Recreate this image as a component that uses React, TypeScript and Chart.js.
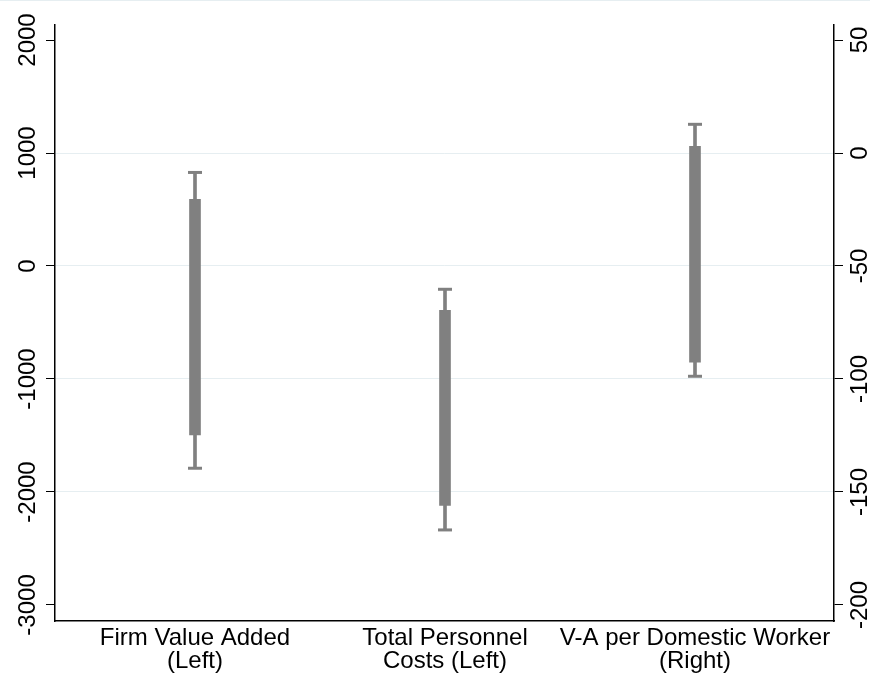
import React, { useEffect, useRef } from "react";
import { Chart, registerables } from "chart.js";

Chart.register(...registerables);

const categories: string[][] = [
  ["Firm Value Added", "(Left)"],
  ["Total Personnel", "Costs (Left)"],
  ["V-A per Domestic Worker", "(Right)"],
];
const catX = [1, 2, 3];
const axisSide = ["y", "y", "y1"];
const outerLow = [-1790, -2336, -98.8];
const outerHigh = [828, -206, 12.7];
const innerLow = [-1494, -2118, -92.6];
const innerHigh = [590, -392, 3.0];
const leftTicks = [-3000, -2000, -1000, 0, 1000, 2000];
const rightTicks = [-200, -150, -100, -50, 0, 50];

const GRAY = "#808080";
const GRID = "#e6eef1";
const FONT = "24px 'Liberation Sans', Arial, Helvetica, sans-serif";

export default function App() {
  const ref = useRef<HTMLCanvasElement | null>(null);

  useEffect(() => {
    if (!ref.current) return;
    const datasets: any[] = [];
    for (const side of ["y", "y1"]) {
      const idx = catX.map((_, i) => i).filter((i) => axisSide[i] === side);
      datasets.push({
        type: "bar",
        yAxisID: side,
        data: idx.map((i) => ({ x: catX[i], y: [outerLow[i], outerHigh[i]] })),
        backgroundColor: GRAY,
        barThickness: 3,
        grouped: false,
        borderWidth: 0,
      });
      datasets.push({
        type: "bar",
        yAxisID: side,
        data: idx.map((i) => ({ x: catX[i], y: [innerLow[i], innerHigh[i]] })),
        backgroundColor: GRAY,
        barThickness: 11,
        grouped: false,
        borderWidth: 0,
      });
      datasets.push({
        type: "scatter",
        yAxisID: side,
        data: idx.flatMap((i) => [
          { x: catX[i], y: outerLow[i] },
          { x: catX[i], y: outerHigh[i] },
        ]),
        pointStyle: "line",
        radius: 7,
        borderWidth: 3,
        borderColor: GRAY,
        backgroundColor: GRAY,
      });
    }

    const labelPlugin = {
      id: "labels",
      beforeDraw(chart: any) {
        const ctx = chart.ctx;
        ctx.save();
        ctx.fillStyle = "#ffffff";
        ctx.fillRect(0, 0, chart.width, chart.height);
        ctx.fillStyle = GRID;
        ctx.fillRect(0, 0, chart.width, 1);
        ctx.restore();
      },
      afterDraw(chart: any) {
        const ctx = chart.ctx;
        const ca = chart.chartArea;
        ctx.save();
        ctx.fillStyle = "#000";
        ctx.font = FONT;
        ctx.textAlign = "center";
        ctx.textBaseline = "alphabetic";
        for (const v of leftTicks) {
          const y = chart.scales.y.getPixelForValue(v);
          ctx.save();
          ctx.translate(ca.left - 20, y);
          ctx.rotate(-Math.PI / 2);
          ctx.fillText(String(v), 0, 0);
          ctx.restore();
        }
        for (const v of rightTicks) {
          const y = chart.scales.y1.getPixelForValue(v);
          ctx.save();
          ctx.translate(ca.right + 33, y);
          ctx.rotate(-Math.PI / 2);
          ctx.fillText(String(v), 0, 0);
          ctx.restore();
        }
        categories.forEach((lines, i) => {
          const x = chart.scales.x.getPixelForValue(catX[i]);
          lines.forEach((t, j) => {
            ctx.fillText(t, x, ca.bottom + 24 + j * 22.5);
          });
        });
        ctx.restore();
      },
    };

    const chart = new Chart(ref.current, {
      type: "bar",
      data: { datasets },
      options: {
        animation: false,
        responsive: false,
        layout: { padding: { top: 25, left: 0, right: 0, bottom: 0 } },
        plugins: { legend: { display: false }, tooltip: { enabled: false } },
        scales: {
          x: {
            type: "linear",
            min: 0.44,
            max: 3.556,
            offset: false,
            grid: { display: false },
            ticks: { display: false },
            border: { display: true, color: "#000", width: 1.5 },
            afterFit: (s: any) => {
              s.height = 52;
            },
          },
          y: {
            type: "linear",
            position: "left",
            min: -3142,
            max: 2133,
            afterBuildTicks: (s: any) => {
              s.ticks = leftTicks.map((v) => ({ value: v }));
            },
            ticks: { display: false },
            grid: {
              color: (c: any) =>
                c.tick && (c.tick.value === 2000 || c.tick.value === -3000) ? "rgba(0,0,0,0)" : GRID,
              lineWidth: 1,
              tickColor: "#000",
              tickLength: 9,
              tickWidth: 1,
            },
            border: { display: true, color: "#000", width: 1.5 },
            afterFit: (s: any) => {
              s.width = 55;
            },
          },
          y1: {
            type: "linear",
            position: "right",
            min: -207.1,
            max: 56.65,
            afterBuildTicks: (s: any) => {
              s.ticks = rightTicks.map((v) => ({ value: v }));
            },
            ticks: { display: false },
            grid: {
              drawOnChartArea: false,
              color: "#000",
              tickColor: "#000",
              tickLength: 9,
              tickWidth: 1,
            },
            border: { display: true, color: "#000", width: 1.5 },
            afterFit: (s: any) => {
              s.width = 36;
            },
          },
        },
      } as any,
      plugins: [labelPlugin],
    });
    return () => chart.destroy();
  }, []);

  return (
    <div style={{ position: "absolute", left: 0, top: 0, width: 870, height: 673 }}>
      <canvas ref={ref} width={870} height={673} style={{ display: "block" }} />
    </div>
  );
}
